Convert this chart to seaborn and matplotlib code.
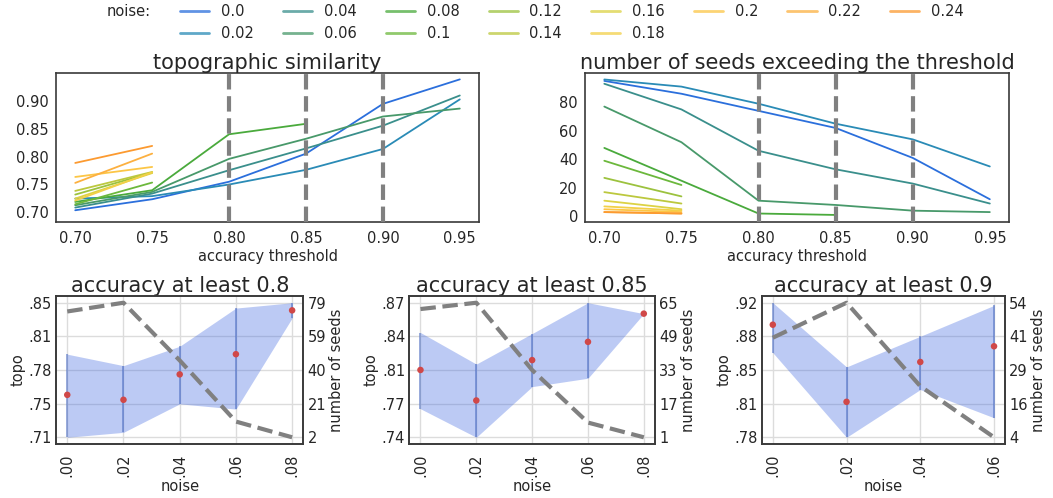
import numpy as np
import pandas as pd
import matplotlib
matplotlib.use("Agg")
import matplotlib.pyplot as plt
import seaborn as sns
from matplotlib.lines import Line2D

# ---------------- data ----------------
thresholds = [0.70, 0.75, 0.80, 0.85, 0.90, 0.95]
noise_levels = [0.0, 0.02, 0.04, 0.06, 0.08, 0.1, 0.12, 0.14, 0.16, 0.18, 0.2, 0.22, 0.24]

# mean topographic similarity per accuracy threshold (noise levels that still have seeds)
topo_070 = [0.7036, 0.7246, 0.7084, 0.7126, 0.7186, 0.7144, 0.7318, 0.7384, 0.7246, 0.7210, 0.7635, 0.7528, 0.7887]
topo_075 = [0.7234, 0.7290, 0.7336, 0.7366, 0.7396, 0.7534, 0.7713, 0.7725, 0.7705, 0.7720, 0.7815, 0.8055, 0.8193]
topo_080 = [0.7549, 0.7499, 0.7756, 0.7960, 0.8403]
topo_085 = [0.8054, 0.7763, 0.8148, 0.8322, 0.8591]
topo_090 = [0.8949, 0.8138, 0.8557, 0.8722]
topo_095 = [0.9390, 0.9030, 0.9100, 0.8865]

# number of seeds exceeding each accuracy threshold
seeds_070 = [95, 96, 93, 77, 48, 39, 27, 17, 11, 7, 5, 3, 3]
seeds_075 = [86, 91, 75, 52, 25, 22, 14, 9, 5, 4, 3, 2, 2]
seeds_080 = [74, 79, 46, 11, 2]
seeds_085 = [62, 65, 33, 8, 1]
seeds_090 = [41, 54, 23, 4]
seeds_095 = [12, 35, 9, 3]

# spread (min / max) of topographic similarity across seeds
topo_min_080 = [0.7120, 0.7170, 0.7458, 0.7405, 0.8326]
topo_max_080 = [0.7960, 0.7844, 0.8040, 0.8426, 0.8480]
topo_min_085 = [0.7684, 0.7412, 0.7895, 0.7975, 0.8591]
topo_max_085 = [0.8411, 0.8110, 0.8401, 0.8695, 0.8591]
topo_min_090 = [0.8655, 0.7765, 0.8267, 0.7970]
topo_max_090 = [0.9180, 0.8505, 0.8827, 0.9152]

# ---------------- styling ----------------
palette_colors = ["#2b6fdc", "#2a8bb6", "#3a8f8c", "#48996a", "#4aaa3c", "#6cb83c",
                  "#9cc23e", "#bcc83e", "#dcd244", "#f2d048", "#fcc646", "#fcb040", "#fc9a30"]
palette = dict(zip(noise_levels, palette_colors))

sns.set_theme(style="white")
plt.rcParams.update({
    "font.family": ["DejaVu Sans"],
    "xtick.labelsize": 10.5,
    "ytick.labelsize": 10.5,
    "axes.labelsize": 10.5,
    "axes.titlesize": 15,
    "axes.edgecolor": "#3a3a3a",
    "axes.linewidth": 1.2,
    "text.color": "#262626",
    "axes.labelcolor": "#262626",
    "xtick.color": "#262626",
    "ytick.color": "#262626",
})

topo_by_thr = [topo_070, topo_075, topo_080, topo_085, topo_090, topo_095]
seeds_by_thr = [seeds_070, seeds_075, seeds_080, seeds_085, seeds_090, seeds_095]
rows = []
for thr, tvals, svals in zip(thresholds, topo_by_thr, seeds_by_thr):
    for nz, tv, sv in zip(noise_levels, tvals, svals):
        rows.append({"threshold": thr, "noise": nz, "topo": tv, "seeds": sv})
df = pd.DataFrame(rows)

fig = plt.figure(figsize=(10.53, 4.98), dpi=100)
ax_topo = fig.add_axes([0.0532, 0.5548, 0.4017, 0.2992])
ax_seed = fig.add_axes([0.5556, 0.5548, 0.4027, 0.2992])

for ax, col, title in [(ax_topo, "topo", "topographic similarity"),
                       (ax_seed, "seeds", "number of seeds exceeding the threshold")]:
    sns.lineplot(data=df, x="threshold", y=col, hue="noise", palette=palette,
                 legend=False, ax=ax, linewidth=1.3)
    for v in [0.80, 0.85, 0.90]:
        ax.axvline(v, color="gray", linestyle="--", linewidth=3, zorder=5)
    ax.set_title(title, pad=3)
    ax.set_xlabel("accuracy threshold", labelpad=2)
    ax.set_ylabel("")
    ax.set_xticks(thresholds)
    ax.set_xticklabels([f"{t:.2f}" for t in thresholds])
    ax.tick_params(axis="x", length=0, pad=7)
    ax.tick_params(axis="y", length=0, pad=5)

ax_topo.set_ylim(0.683, 0.951)
ax_topo.set_yticks([0.70, 0.75, 0.80, 0.85, 0.90])
ax_topo.set_yticklabels(["0.70", "0.75", "0.80", "0.85", "0.90"])
ax_seed.set_yticks([0, 20, 40, 60, 80])

# legend
handles = [Line2D([], [], color="none"), Line2D([], [], color="none")]
labels = ["noise:", ""]
for nz in noise_levels:
    handles.append(Line2D([], [], color=palette[nz], linewidth=2, alpha=0.75))
    labels.append(str(nz))
fig.legend(handles, labels, loc="upper center", bbox_to_anchor=(0.489, 1.018), ncol=9,
           frameon=False, fontsize=10.5, handlelength=2.0, columnspacing=2.0,
           handletextpad=0.8, labelspacing=0.45)

# bottom panels
bottom_specs = [
    (0.8, topo_080, topo_min_080, topo_max_080, seeds_080, [0.0532, 0.1084, 0.2349, 0.2972]),
    (0.85, topo_085, topo_min_085, topo_max_085, seeds_085, [0.3887, 0.1084, 0.2333, 0.2972]),
    (0.9, topo_090, topo_min_090, topo_max_090, seeds_090, [0.7234, 0.1084, 0.2311, 0.2972]),
]
for thr, means, mins, maxs, seeds, pos in bottom_specs:
    ax = fig.add_axes(pos)
    nz = noise_levels[:len(means)]
    ax.fill_between(nz, mins, maxs, color="royalblue", alpha=0.35, linewidth=0, zorder=1)
    ax.vlines(nz, mins, maxs, color="#4a6cc4", linewidth=1.3, alpha=0.6, zorder=2)
    sns.scatterplot(x=nz, y=means, color="#d04848", s=22, edgecolor="none", ax=ax, zorder=3)
    ax.grid(True, color="#dcdcdc", linewidth=1)
    ax.set_axisbelow(True)
    yt = np.linspace(min(mins), max(maxs), 5)
    ax.set_yticks(yt)
    ax.set_yticklabels([f"{v:.2f}".lstrip("0") for v in yt])
    ax.set_xticks(nz)
    ax.set_xticklabels([f"{v:.2f}".lstrip("0") for v in nz], rotation=90)
    ax.set_xlabel("noise", labelpad=1)
    ax.set_ylabel("topo", labelpad=2)
    ax.set_title(f"accuracy at least {thr}", pad=2)
    ax.tick_params(axis="x", length=0, pad=7)
    ax.tick_params(axis="y", length=0, pad=3)

    ax2 = ax.twinx()
    sns.lineplot(x=nz, y=seeds, ax=ax2, color="gray", linewidth=3, linestyle="--")
    st = np.linspace(min(seeds), max(seeds), 5)
    ax2.set_yticks(st)
    ax2.set_yticklabels([str(int(v)) for v in st])
    ax2.set_ylabel("number of seeds", labelpad=2)
    ax2.grid(False)
    ax2.tick_params(axis="y", length=0, pad=3)

fig.savefig("out.png", dpi=100)
